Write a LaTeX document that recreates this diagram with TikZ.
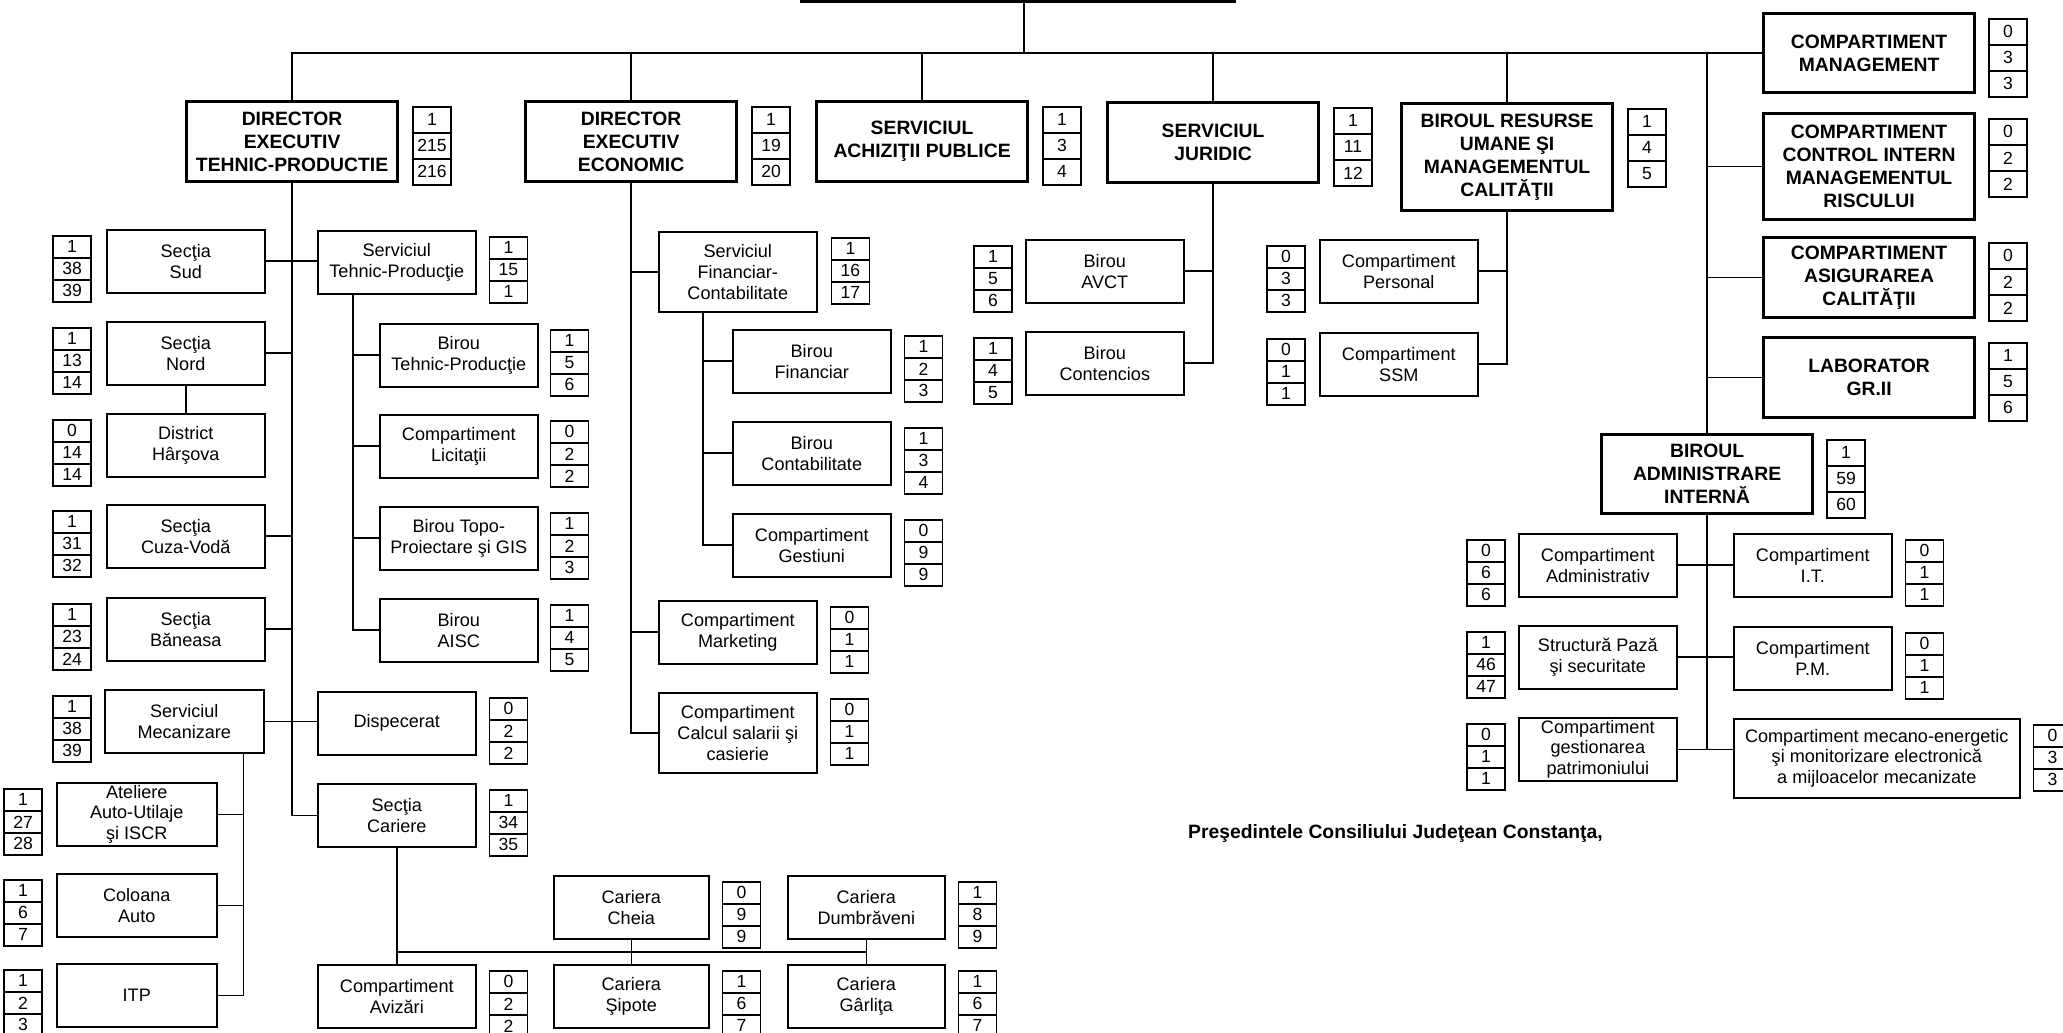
\documentclass[tikz,border=0pt]{standalone}
\usepackage{fontspec}
\setmainfont{Liberation Sans}
\usetikzlibrary{matrix}
\usetikzlibrary{positioning}
\newlength{\pxu}
\setlength{\pxu}{0.02cm}

\begin{document}
\begin{tikzpicture}
  [x=0.02cm, y=-0.02cm,
   big/.style={draw, line width=1.8pt, align=center, anchor=north west, inner sep=1pt,
     minimum width=211\pxu, minimum height=80\pxu,
     font=\fontsize{11}{13}\selectfont\bfseries},
   box/.style={draw, line width=0.9pt, align=center, anchor=north west, inner sep=1pt,
     minimum width=158\pxu, minimum height=63\pxu,
     font=\fontsize{10.3}{11.9}\selectfont},
   nums/.style={matrix of nodes, row sep=-0.8pt, anchor=north west,
     nodes={draw, line width=0.8pt, minimum width=38\pxu, minimum height=22\pxu,
       inner sep=0pt, anchor=center, font=\fontsize{10}{11}\selectfont}},
   bignums/.style={nums, nodes={minimum height=26\pxu}},
   link/.style={line width=0.9pt},
  ]
  \useasboundingbox (0,0) rectangle (2063,1033);

  \coordinate (gdl) at (800,1);
  \coordinate (gdr) at (1236,1);
  \coordinate (gd) at (1024,1);
  \draw[line width=1.8pt] (gdl) -- (gdr);

  \node[big] (dtp) at (185,100) {DIRECTOR\\EXECUTIV\\TEHNIC-PRODUCTIE};
  \matrix[bignums] (dtpn) at ([xshift=7\pxu]dtp.north east) {1\\215\\216\\};
  \node[big] (dec) at (524,100) {DIRECTOR\\EXECUTIV\\ECONOMIC};
  \matrix[bignums] (decn) at ([xshift=7\pxu]dec.north east) {1\\19\\20\\};
  \node[big] (sap) at (815,100) {SERVICIUL\\ACHIZIŢII PUBLICE};
  \matrix[bignums] (sapn) at ([xshift=7\pxu]sap.north east) {1\\3\\4\\};
  \node[big] (jur) at (1106,101) {SERVICIUL\\JURIDIC};
  \matrix[bignums] (jurn) at ([xshift=7\pxu]jur.north east) {1\\11\\12\\};
  \node[big, minimum height=107\pxu] (bru) at (1400,102) {BIROUL RESURSE\\UMANE ŞI\\MANAGEMENTUL\\CALITĂŢII};
  \matrix[bignums] (brun) at ([xshift=7\pxu]bru.north east) {1\\4\\5\\};

  \node[big, minimum height=79\pxu] (mgmt) at (1762,12) {COMPARTIMENT\\MANAGEMENT};
  \matrix[bignums] (mgmtn) at ([xshift=6\pxu]mgmt.north east) {0\\3\\3\\};
  \node[big, minimum height=106\pxu] (cir) at (1762,112) {COMPARTIMENT\\CONTROL INTERN\\MANAGEMENTUL\\RISCULUI};
  \matrix[bignums] (cirn) at ([xshift=6\pxu]cir.north east) {0\\2\\2\\};
  \node[big] (aca) at (1762,236) {COMPARTIMENT\\ASIGURAREA\\CALITĂŢII};
  \matrix[bignums] (acan) at ([xshift=6\pxu]aca.north east) {0\\2\\2\\};
  \node[big] (lab) at (1762,336) {LABORATOR\\GR.II};
  \matrix[bignums] (labn) at ([xshift=6\pxu]lab.north east) {1\\5\\6\\};
  \node[big, minimum height=79\pxu] (bai) at (1600,433) {BIROUL\\ADMINISTRARE\\INTERNĂ};
  \matrix[bignums] (bain) at ([xshift=6\pxu]bai.north east) {1\\59\\60\\};

  \node[box] (sud) at (106,229) {Secţia\\Sud};
  \matrix[nums, anchor=north east] (sudn) at ([xshift=-8\pxu]sud.north west) {1\\38\\39\\};
  \node[box] (nord) at (106,321) {Secţia\\Nord};
  \matrix[nums, anchor=north east] (nordn) at ([xshift=-8\pxu]nord.north west) {1\\13\\14\\};
  \node[box] (hars) at (106,413) {District\\Hârşova};
  \matrix[nums, anchor=north east] (harsn) at ([xshift=-8\pxu]hars.north west) {0\\14\\14\\};
  \node[box] (cuza) at (106,504) {Secţia\\Cuza-Vodă};
  \matrix[nums, anchor=north east] (cuzan) at ([xshift=-8\pxu]cuza.north west) {1\\31\\32\\};
  \node[box] (ban) at (106,597) {Secţia\\Băneasa};
  \matrix[nums, anchor=north east] (bann) at ([xshift=-8\pxu]ban.north west) {1\\23\\24\\};
  \node[box, minimum width=159\pxu] (mec) at (104,689) {Serviciul\\Mecanizare};
  \matrix[nums, anchor=north east] (mecn) at ([xshift=-6\pxu]mec.north west) {1\\38\\39\\};

  \node[box, minimum width=160\pxu] (atel) at (56,782) {Ateliere\\Auto-Utilaje\\şi ISCR};
  \matrix[nums, anchor=north east] (ateln) at ([xshift=-7\pxu]atel.north west) {1\\27\\28\\};
  \node[box, minimum width=160\pxu] (col) at (56,873) {Coloana\\Auto};
  \matrix[nums, anchor=north east] (coln) at ([xshift=-7\pxu]col.north west) {1\\6\\7\\};
  \node[box, minimum width=160\pxu] (itp) at (56,963) {ITP};
  \matrix[nums, anchor=north east] (itpn) at ([xshift=-7\pxu]itp.north west) {1\\2\\3\\};

  \node[box] (stp) at (317,230) {Serviciul\\Tehnic-Producţie};
  \matrix[nums] (stpn) at ([xshift=6\pxu]stp.north east) {1\\15\\1\\};
  \node[box] (btp) at (379,323) {Birou\\Tehnic-Producţie};
  \matrix[nums] (btpn) at ([xshift=5\pxu]btp.north east) {1\\5\\6\\};
  \node[box] (lic) at (379,414) {Compartiment\\Licitaţii};
  \matrix[nums] (licn) at ([xshift=5\pxu]lic.north east) {0\\2\\2\\};
  \node[box] (topo) at (379,506) {Birou Topo-\\Proiectare şi GIS};
  \matrix[nums] (topon) at ([xshift=5\pxu]topo.north east) {1\\2\\3\\};
  \node[box] (aisc) at (379,598) {Birou\\AISC};
  \matrix[nums] (aiscn) at ([xshift=5\pxu]aisc.north east) {1\\4\\5\\};
  \node[box] (disp) at (317,691) {Dispecerat};
  \matrix[nums] (dispn) at ([xshift=6\pxu]disp.north east) {0\\2\\2\\};
  \node[box] (car) at (317,783) {Secţia\\Cariere};
  \matrix[nums] (carn) at ([xshift=6\pxu]car.north east) {1\\34\\35\\};

  \node[box] (aviz) at (317,964) {Compartiment\\Avizări};
  \matrix[nums] (avizn) at ([xshift=6\pxu]aviz.north east) {0\\2\\2\\};
  \node[box, minimum width=155\pxu] (cheia) at (553,875) {Cariera\\Cheia};
  \matrix[nums] (cheian) at ([xshift=6\pxu]cheia.north east) {0\\9\\9\\};
  \node[box, minimum width=155\pxu] (sip) at (553,964) {Cariera\\Şipote};
  \matrix[nums] (sipn) at ([xshift=6\pxu]sip.north east) {1\\6\\7\\};
  \node[box, minimum width=157\pxu] (dumb) at (787,875) {Cariera\\Dumbrăveni};
  \matrix[nums] (dumbn) at ([xshift=6\pxu]dumb.north east) {1\\8\\9\\};
  \node[box, minimum width=157\pxu] (garl) at (787,964) {Cariera\\Gârliţa};
  \matrix[nums] (garln) at ([xshift=6\pxu]garl.north east) {1\\6\\7\\};

  \node[box, minimum height=80\pxu] (sfc) at (658,231) {Serviciul\\Financiar-\\Contabilitate};
  \matrix[nums] (sfcn) at ([xshift=7\pxu]sfc.north east) {1\\16\\17\\};
  \node[box] (bfin) at (732,329) {Birou\\Financiar};
  \matrix[nums] (bfinn) at ([xshift=6\pxu]bfin.north east) {1\\2\\3\\};
  \node[box] (bcont) at (732,421) {Birou\\Contabilitate};
  \matrix[nums] (bcontn) at ([xshift=6\pxu]bcont.north east) {1\\3\\4\\};
  \node[box] (gest) at (732,513) {Compartiment\\Gestiuni};
  \matrix[nums] (gestn) at ([xshift=6\pxu]gest.north east) {0\\9\\9\\};
  \node[box] (mkt) at (658,600) {Compartiment\\Marketing};
  \matrix[nums] (mktn) at ([xshift=6\pxu]mkt.north east) {0\\1\\1\\};
  \node[box, minimum height=80\pxu] (calc) at (658,692) {Compartiment\\Calcul salarii şi\\casierie};
  \matrix[nums] (calcn) at ([xshift=6\pxu]calc.north east) {0\\1\\1\\};

  \node[box] (avct) at (1025,239) {Birou\\AVCT};
  \matrix[nums, anchor=north east] (avctn) at ([xshift=-6\pxu]avct.north west) {1\\5\\6\\};
  \node[box] (cont) at (1025,331) {Birou\\Contencios};
  \matrix[nums, anchor=north east] (contn) at ([xshift=-6\pxu]cont.north west) {1\\4\\5\\};
  \node[box] (pers) at (1319,239) {Compartiment\\Personal};
  \matrix[nums, anchor=north east] (persn) at ([xshift=-7\pxu]pers.north west) {0\\3\\3\\};
  \node[box] (ssm) at (1319,332) {Compartiment\\SSM};
  \matrix[nums, anchor=north east] (ssmn) at ([xshift=-7\pxu]ssm.north west) {0\\1\\1\\};

  \node[box] (adm) at (1518,533) {Compartiment\\Administrativ};
  \matrix[nums, anchor=north east] (admn) at ([xshift=-6\pxu]adm.north west) {0\\6\\6\\};
  \node[box] (paza) at (1518,625) {Structură Pază\\şi securitate};
  \matrix[nums, anchor=north east] (pazan) at ([xshift=-6\pxu]paza.north west) {1\\46\\47\\};
  \node[box] (patr) at (1518,717) {Compartiment\\gestionarea\\patrimoniului};
  \matrix[nums, anchor=north east] (patrn) at ([xshift=-6\pxu]patr.north west) {0\\1\\1\\};
  \node[box] (it) at (1733,533) {Compartiment\\I.T.};
  \matrix[nums] (itn) at ([xshift=6\pxu]it.north east) {0\\1\\1\\};
  \node[box] (pm) at (1733,626) {Compartiment\\P.M.};
  \matrix[nums] (pmn) at ([xshift=6\pxu]pm.north east) {0\\1\\1\\};
  \node[box, minimum width=286\pxu, minimum height=79\pxu] (mec2) at (1733,718) {Compartiment mecano-energetic\\şi monitorizare electronică\\a mijloacelor mecanizate};
  \matrix[nums] (mec2n) at ([xshift=6\pxu]mec2.north east) {0\\3\\3\\};

  \node[font=\fontsize{11}{13}\selectfont\bfseries, anchor=base west] (pres) at (1182,838) {Preşedintele Consiliului Judeţean Constanţa,};

  \draw[link] (gd) -- (gd |- mgmt.west);
  \draw[link] (dtp.north) |- (mgmt.west);
  \draw[link] (dec.north) -- (dec.north |- mgmt.west);
  \draw[link] (sap.north) -- (sap.north |- mgmt.west);
  \draw[link] (jur.north) -- (jur.north |- mgmt.west);
  \draw[link] (bru.north) -- (bru.north |- mgmt.west);
  \draw[link] (bai.north) -- (bai.north |- mgmt.west);
  \draw[link] (cir.west) -- (cir.west -| bai.north);
  \draw[link] (aca.west) -- (aca.west -| bai.north);
  \draw[link] (lab.west) -- (lab.west -| bai.north);

  \draw[link] (dtp.south) |- (car.west);
  \draw[link] (sud.east) -- (sud.east -| stp.west);
  \draw[link] (nord.east) -- (nord.east -| dtp.south);
  \draw[link] (nord.south) -- (hars.north);
  \draw[link] (cuza.east) -- (cuza.east -| dtp.south);
  \draw[link] (ban.east) -- (ban.east -| dtp.south);
  \draw[link] (mec.east) -- (mec.east -| disp.west);

  \coordinate (stpt) at ([xshift=36\pxu]stp.south west);
  \draw[link] (stpt) |- (aisc.west);
  \draw[link] (btp.west) -- (btp.west -| stpt);
  \draw[link] (lic.west) -- (lic.west -| stpt);
  \draw[link] (topo.west) -- (topo.west -| stpt);

  \coordinate (mect) at ([xshift=-21\pxu]mec.south east);
  \draw[link] (mect) |- (itp.east);
  \draw[link] (atel.east) -- (atel.east -| mect);
  \draw[link] (col.east) -- (col.east -| mect);

  \path (cheia.south) -- (sip.north) coordinate[pos=0.5] (cmid);
  \draw[link] (car.south) -- (aviz.north);
  \draw[link] (car.south |- cmid) -- (dumb.south |- cmid);
  \draw[link] (cheia.south) -- (sip.north);
  \draw[link] (dumb.south) -- (garl.north);

  \draw[link] (dec.south) |- (calc.west);
  \draw[link] (sfc.west) -- (sfc.west -| dec.south);
  \draw[link] (mkt.west) -- (mkt.west -| dec.south);
  \coordinate (sfct) at ([xshift=45\pxu]sfc.south west);
  \draw[link] (sfct) |- (gest.west);
  \draw[link] (bfin.west) -- (bfin.west -| sfct);
  \draw[link] (bcont.west) -- (bcont.west -| sfct);

  \draw[link] (jur.south) |- (cont.east);
  \draw[link] (avct.east) -- (avct.east -| jur.south);
  \draw[link] (bru.south) |- (ssm.east);
  \draw[link] (pers.east) -- (pers.east -| bru.south);

  \draw[link] (bai.south) |- (patr.east);
  \draw[link] (patr.east) -- (patr.east -| mec2.west);
  \draw[link] (adm.east) -- (it.west);
  \draw[link] (paza.east) -- (paza.east -| pm.west);
\end{tikzpicture}
\end{document}
